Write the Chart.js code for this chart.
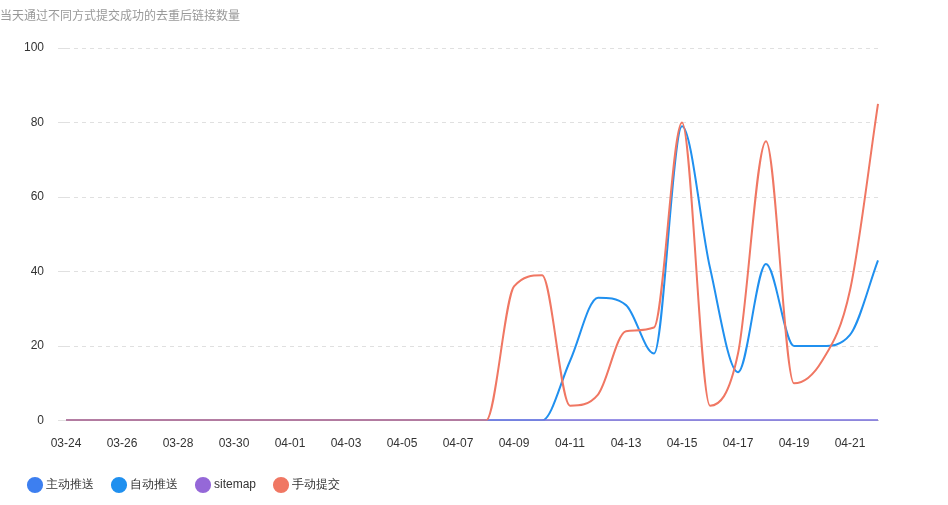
<!DOCTYPE html>
<html>
<head>
<meta charset="utf-8">
<script src="https://cdn.jsdelivr.net/npm/chart.js@4"></script>
<style>
  body { margin: 0; background: #fff; font-family: "Microsoft YaHei", "Noto Sans CJK SC", sans-serif; }
  #wrap { position: relative; width: 948px; height: 505px; }
  #title { position: absolute; left: 0; top: 6px; font-size: 12px; color: #999; }
</style>
</head>
<body>
<div id="wrap">
  <div id="title">当天通过不同方式提交成功的去重后链接数量</div>
  <canvas id="c" width="948" height="505"></canvas>
</div>
<script>
// 日期
const dias = ["03-24","03-25","03-26","03-27","03-28","03-29","03-30","03-31","04-01","04-02",
  "04-03","04-04","04-05","04-06","04-07","04-08","04-09","04-10","04-11","04-12",
  "04-13","04-14","04-15","04-16","04-17","04-18","04-19","04-20","04-21","04-22"];

const zhudong = new Array(30).fill(0);
const sitemap = new Array(30).fill(0);
const zidong = [0,0,0,0,0,0,0,0,0,0, 0,0,0,0,0,0,0,0,16,33, 31,18,79,41,13,42,20,20,23,43];
const shoudong = [0,0,0,0,0,0,0,0,0,0, 0,0,0,0,0,0,36,39,4,7, 24,25,80,4,18,75,10,16,35,85];

function serie(label, data, color, order) {
    return {
        label, data,
        borderColor: color, backgroundColor: color,
        borderWidth: 2, pointRadius: 0, pointHoverRadius: 3,
        cubicInterpolationMode: "monotone", order
    };
}

new Chart(document.getElementById("c"), {
    type: "line",
    data: {
        labels: dias,
        datasets: [
            serie("主动推送", zhudong, "#3d7ff0", 4),
            serie("自动推送", zidong, "#2090ef", 3),
            serie("sitemap", sitemap, "#9568d8", 2),
            serie("手动提交", shoudong, "#f07763", 1)
        ]
    },
    options: {
        responsive: false,
        animation: false,
        layout: { padding: { left: 10, right: 70, top: 48, bottom: 4 } },
        plugins: {
            legend: {
                position: "bottom", align: "start",
                labels: { usePointStyle: true, pointStyle: "circle", boxWidth: 10, boxHeight: 10,
                          color: "#333", font: { size: 12 }, padding: 20,
                          sort: (a, b) => a.datasetIndex - b.datasetIndex }
            },
            tooltip: { mode: "index", intersect: false }
        },
        scales: {
            x: {
                grid: { display: false },
                border: { color: "#ccc" },
                ticks: { color: "#333", font: { size: 12 }, maxRotation: 0, autoSkip: false, padding: 8,
                         callback: (v, i) => i % 2 === 0 ? dias[i] : "" }
            },
            y: {
                min: 0, max: 100,
                border: { display: false, dash: [4, 4] },
                grid: { color: "#e0e0e0" },
                ticks: { stepSize: 20, color: "#333", font: { size: 12 }, padding: 14 }
            }
        }
    }
});
</script>
</body>
</html>
